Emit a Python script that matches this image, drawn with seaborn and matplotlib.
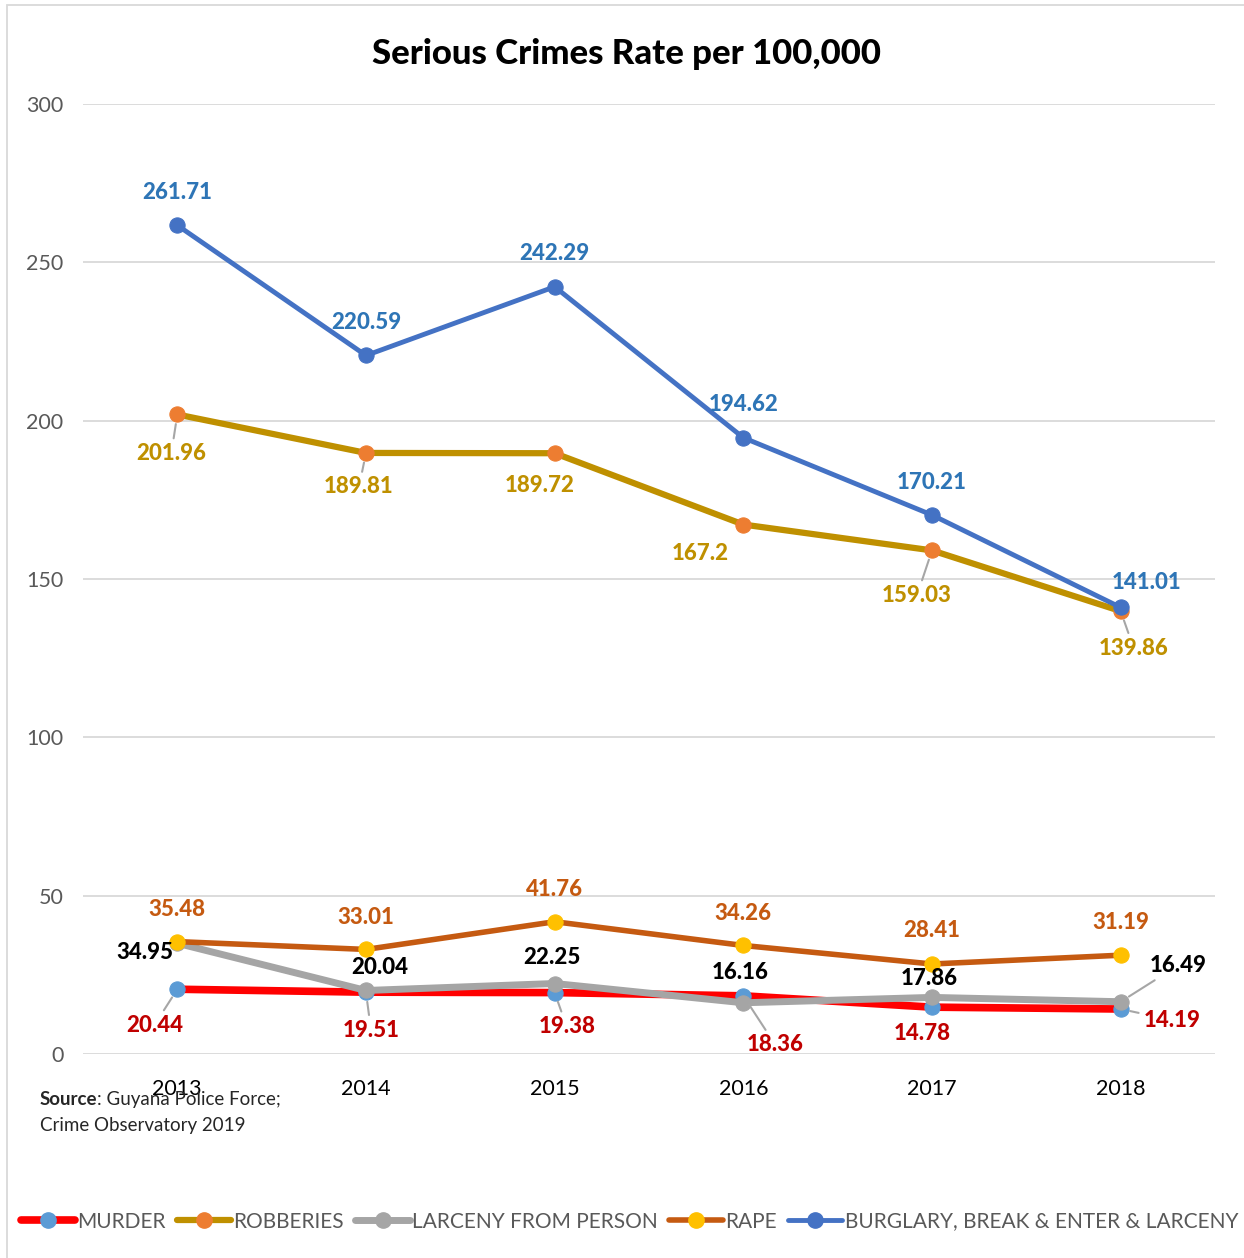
import numpy as np
import pandas as pd
import matplotlib
matplotlib.use("Agg")
import matplotlib.pyplot as plt
import seaborn as sns
from matplotlib.lines import Line2D
from matplotlib.patches import Rectangle

years = [2013, 2014, 2015, 2016, 2017, 2018]
murder = [20.44, 19.51, 19.38, 18.36, 14.78, 14.19]
robberies = [201.96, 189.81, 189.72, 167.2, 159.03, 139.86]
larceny_person = [34.95, 20.04, 22.25, 16.16, 17.86, 16.49]
rape = [35.48, 33.01, 41.76, 34.26, 28.41, 31.19]
burglary = [261.71, 220.59, 242.29, 194.62, 170.21, 141.01]
series_names = ["MURDER", "ROBBERIES", "LARCENY FROM PERSON", "RAPE",
                "BURGLARY, BREAK & ENTER & LARCENY"]

# line colour, marker colour, label colour, line width
styles = {
    "MURDER": ("#FF0000", "#5B9BD5", "#C00000", 5.5),
    "ROBBERIES": ("#BF9000", "#ED7D31", "#BF9000", 4.5),
    "LARCENY FROM PERSON": ("#A5A5A5", "#A5A5A5", "#000000", 5.0),
    "RAPE": ("#C55A11", "#FFC000", "#C55A11", 4.0),
    "BURGLARY, BREAK & ENTER & LARCENY": ("#4472C4", "#4472C4", "#2E75B6", 3.5),
}

# label offsets in pixels (dx, dy) and whether a leader line is drawn
label_offsets = {
    "MURDER": [(-23, -36, True), (5, -38, True), (12, -34, True), (32, -49, True), (-10, -26, False), (51, -11, True)],
    "ROBBERIES": [(-6, -39, True), (-7, -34, True), (-15, -32, False), (-43, -29, False), (-15, -45, True), (13, -37, True)],
    "LARCENY FROM PERSON": [(-32, -9, False), (14, 23, False), (-3, 26, False), (-3, 30, False), (-3, 19, False), (57, 36, True)],
    "RAPE": [(0, 32, False), (0, 32, False), (0, 32, False), (0, 32, False), (0, 33, False), (0, 33, False)],
    "BURGLARY, BREAK & ENTER & LARCENY": [(0, 33, False), (0, 33, False), (0, 33, False), (0, 33, False), (0, 33, False), (26, 25, False)],
}

df = pd.DataFrame({
    "year": years * 5,
    "rate": murder + robberies + larceny_person + rape + burglary,
    "crime": sum([[n] * len(years) for n in series_names], []),
})

sns.set_theme(style="white")
plt.rcParams["font.family"] = ["Lato", "DejaVu Sans"]

fig = plt.figure(figsize=(12.44, 12.58), dpi=100)
ax = fig.add_axes([0.0667, 0.1622, 0.910, 0.7551])

for i, name in enumerate(series_names):
    lc, mc, tc, lw = styles[name]
    sub = df[df["crime"] == name]
    sns.lineplot(data=sub, x="year", y="rate", ax=ax, color=lc, linewidth=lw,
                 marker="o", markersize=11, markerfacecolor=mc,
                 markeredgecolor=mc, zorder=3 + i, legend=False)

for name in series_names:
    lc, mc, tc, lw = styles[name]
    vals = df.loc[df["crime"] == name, "rate"].tolist()
    for x, v, (dx, dy, lead) in zip(years, vals, label_offsets[name]):
        ap = None
        if lead:
            ap = dict(arrowstyle="-", color="#A6A6A6", lw=1.5, shrinkA=1, shrinkB=7)
        ax.annotate(f"{v:g}", xy=(x, v), xytext=(dx, dy), textcoords="offset pixels",
                    ha="center", va="center", fontsize=16, fontweight="black",
                    color=tc, arrowprops=ap, zorder=20)

ax.set_xlim(2012.5, 2018.5)
ax.set_ylim(0, 300)
ax.set_yticks(np.arange(0, 301, 50))
ax.set_xticks(years)
ax.set_xticklabels([str(y) for y in years])
ax.set_xlabel("")
ax.set_ylabel("")
ax.grid(axis="y", color="#D9D9D9", linewidth=1.3)
ax.grid(axis="x", visible=False)
for s in ax.spines.values():
    s.set_visible(False)
ax.tick_params(axis="both", labelsize=15.5, labelcolor="#595959", length=0)
ax.tick_params(axis="x", pad=18, labelcolor="#000000")
ax.tick_params(axis="y", pad=14)
ax.set_title("Serious Crimes Rate per 100,000", fontsize=25, fontweight="black",
             color="#000000", pad=29, x=0.48)

src = fig.text(0.032, 0.122, "Source", fontsize=13.5, fontweight="bold", va="baseline")
fig.text(0.032, 0.101, "Crime Observatory 2019", fontsize=13.5, va="baseline")
ax.annotate(": Guyana Police Force;", xy=(1, 0), xycoords=src, fontsize=13.5, va="bottom")

handles = []
for name in series_names:
    lc, mc, tc, lw = styles[name]
    handles.append(Line2D([0], [0], color=lc, lw=lw, marker="o", markersize=11,
                          markerfacecolor=mc, markeredgecolor=mc))
leg = fig.legend(handles, series_names, loc="center", bbox_to_anchor=(0.506, 0.029),
                 ncol=5, frameon=False, fontsize=15, handlelength=2.6,
                 handletextpad=0.1, columnspacing=0.55)
for t in leg.get_texts():
    t.set_color("#595959")

fig.patches.append(Rectangle((0.006, -0.01), 1.1, 1.006, transform=fig.transFigure,
                             fill=False, edgecolor="#D9D9D9", linewidth=1.3))

fig.savefig("out.png", dpi=100)
